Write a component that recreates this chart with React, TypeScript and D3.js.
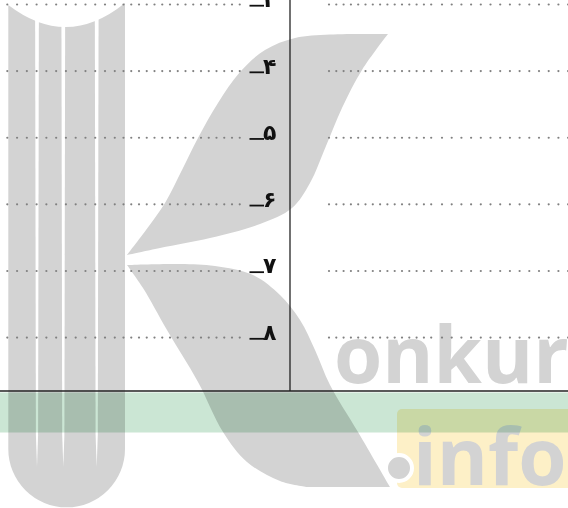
import * as d3 from 'd3'

const W = 568
const H = 508

// question rows (exam sheet answer lines) and their Persian labels
const QUESTIONS = [3, 4, 5, 6, 7, 8]
const LABELS = ['۳', '۴', '۵', '۶', '۷', '۸']

// watermark outline points
const STEM_SLITS = [37, 63.3, 96.7]
const ARM_TOP = [[127, 255], [146, 230], [165, 203], [182, 170], [198, 138], [218, 103], [240, 72], [265, 50], [295, 38], [330, 34.5], [388, 34]]
const ARM_BOTTOM = [[388, 34], [362, 70], [342, 108], [326, 146], [310, 183], [292, 208], [260, 224], [210, 238], [160, 248], [127, 255]]
const LEG_RIGHT = [[127, 265], [180, 264], [215, 266], [253, 275], [280, 295], [300, 320], [315, 350], [330, 385], [358, 432], [390, 487]]
const LEG_LEFT = [[307, 487], [280, 481], [247, 462], [223, 432], [198, 382], [167, 330], [143, 288], [127, 265]]

const GRAY = '#d3d3d3'

export default function App() {
  const y = d3.scaleLinear().domain([3, 8]).range([4.5, 337.6])
  const axisX = 290
  const baseY = 391

  const leftDots = [...d3.range(7.3, 123, 9.77), ...d3.range(123.5, 244, 7.75)]
  const rightDots = [...d3.range(329, 438, 7.3), ...d3.range(442, 572, 9.7)]

  const curve = d3.line().curve(d3.curveCatmullRom.alpha(0.5))
  const join = (a: number[][], b: number[][]) =>
    (curve(a as [number, number][]) ?? '') + (curve(b as [number, number][]) ?? '').replace(/^M/, 'L') + 'Z'

  const armPath = join(ARM_TOP, ARM_BOTTOM)
  const legPath = join(LEG_RIGHT, LEG_LEFT)
  const stemPath = 'M8.3,5 Q67,50 125,3 L125,449 A58.35,58.35 0 0 1 8.3,449 Z'

  return (
    <svg
      width={W}
      height={H}
      style={{ position: 'absolute', left: 0, top: 0, display: 'block' }}
    >
      <rect width={W} height={H} fill="#fff" />

      {/* watermark */}
      <rect x={397} y={409} width={190} height={79} rx={5} fill="#fdf0c7" />
      <path d={stemPath} fill={GRAY} />
      {STEM_SLITS.map((cx) => (
        <path
          key={cx}
          d={`M${cx - 1.9},0 L${cx + 1.9},0 L${cx + 1.1},435 L${cx},467 L${cx - 1.1},435 Z`}
          fill="#fff"
        />
      ))}
      <path d={armPath} fill={GRAY} />
      <path d={legPath} fill={GRAY} />
      <text
        x={334}
        y={383}
        fontFamily="'Open Sans', sans-serif"
        fontWeight={700}
        fontSize={78}
        fill={GRAY}
      >
        onkur
      </text>
      <circle cx={399} cy={468} r={13} fill={GRAY} stroke="#fff" strokeWidth={4} />
      <text
        x={413}
        y={485}
        fontFamily="'Open Sans', sans-serif"
        fontWeight={700}
        fontSize={78}
        fill={GRAY}
      >
        info
      </text>
      <rect x={0} y={392.5} width={W} height={40} fill="#cbe6d4" style={{ mixBlendMode: 'multiply' }} />

      {/* dotted answer lines */}
      {QUESTIONS.map((q) => (
        <g key={q}>
          {leftDots.map((x) => (
            <circle key={'l' + x} cx={x} cy={y(q)} r={1.1} fill="#808080" />
          ))}
          {rightDots.map((x) => (
            <circle key={'r' + x} cx={x} cy={y(q)} r={1.1} fill="#808080" />
          ))}
        </g>
      ))}

      {/* labels */}
      {QUESTIONS.map((q, i) => (
        <g key={'lab' + q}>
          <line x1={249.5} x2={264} y1={y(q) + 1.2} y2={y(q) + 1.2} stroke="#111" strokeWidth={1.8} />
          <text
            x={263}
            y={y(q) + 2.5}
            fontFamily="'DejaVu Sans', sans-serif"
            fontWeight={700}
            fontSize={22}
            fill="#111"
          >
            {LABELS[i]}
          </text>
        </g>
      ))}

      {/* frame lines */}
      <line x1={axisX} x2={axisX} y1={0} y2={baseY} stroke="#111" strokeWidth={1.2} />
      <line x1={0} x2={W} y1={baseY} y2={baseY} stroke="#222" strokeWidth={1.5} />
    </svg>
  )
}
